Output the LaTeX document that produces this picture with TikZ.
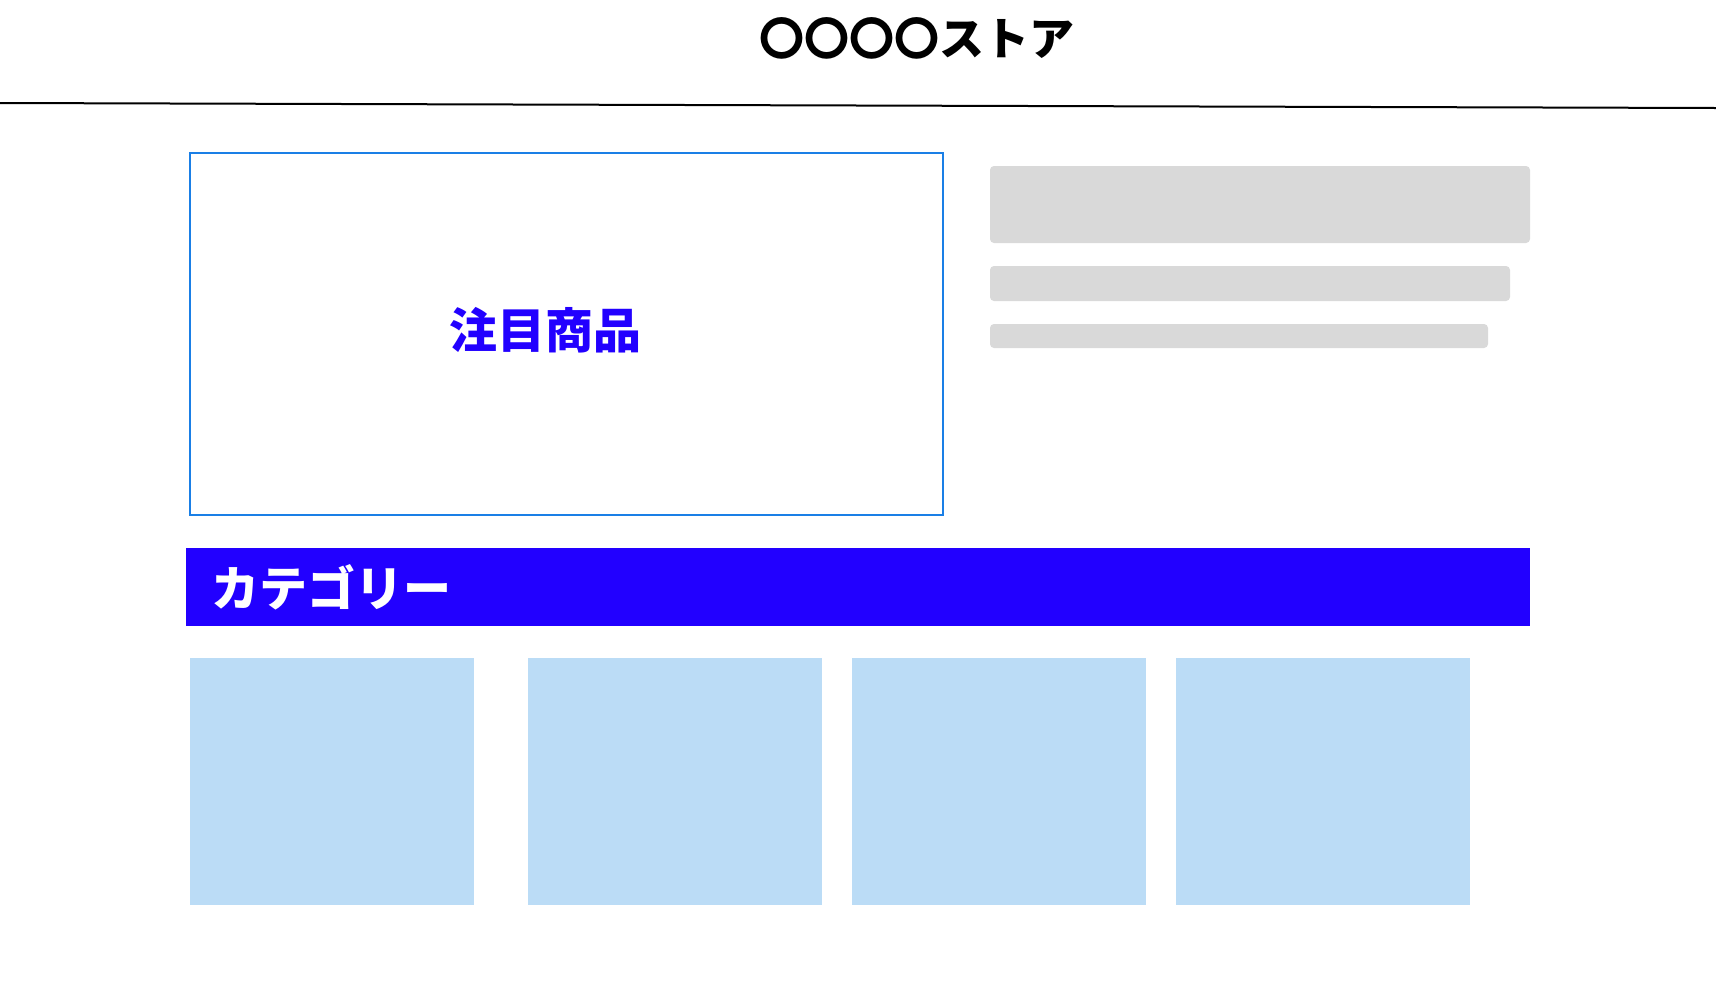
\documentclass[tikz,border=0pt]{standalone}
\usepackage{fontspec}
\newfontfamily\cjk{Noto Sans CJK JP}
\definecolor{framblue}{HTML}{1A7FE6}
\definecolor{barblue}{HTML}{2200FF}
\definecolor{tileblue}{HTML}{BBDCF6}
\definecolor{skel}{HTML}{D9D9D9}
\tikzset{
  box/.style={anchor=north west, inner sep=0pt, outer sep=0pt, minimum width=#1},
  skelbar/.style={fill=skel, rounded corners=4pt},
  tile/.style={fill=tileblue, anchor=north west, inner sep=0pt, outer sep=0pt, minimum width=294pt, minimum height=247pt},
  jp/.style={font=\cjk\bfseries\fontsize{#1}{#1}\selectfont, inner sep=0pt}
}
\begin{document}
\begin{tikzpicture}[x=1pt,y=1pt]
\useasboundingbox[fill=white] (0,0) rectangle (1716,-994);
% title
\node[jp=45, text=black] (title) at (917,-38) {〇〇〇〇ストア};
% header rule
\coordinate (ruleL) at (0,-103);
\coordinate (ruleR) at (1716,-108);
\draw[line width=2pt] (ruleL) -- (ruleR);
% featured box
\node[box=753pt, minimum height=362pt, draw=framblue, line width=2pt] (feat) at (190,-153) {};
\node[jp=48, text=barblue] (featlabel) at (545,-330) {注目商品};
% skeleton bars
\node[box=540pt, minimum height=77pt, skelbar] (sk1) at (990,-166) {};
\node[box=520pt, minimum height=35pt, skelbar] (sk2) at (990,-266) {};
\node[box=498pt, minimum height=24pt, skelbar] (sk3) at (990,-324) {};
% category bar
\node[box=1344pt, minimum height=78pt, fill=barblue] (catbar) at (186,-548) {};
\node[jp=48, text=white, anchor=west] (catlabel) at (211,-587) {カテゴリー};
% tiles
\node[tile, minimum width=284pt] (t1) at (190,-658) {};
\node[tile] (t2) at (528,-658) {};
\node[tile] (t3) at (852,-658) {};
\node[tile] (t4) at (1176,-658) {};
\end{tikzpicture}
\end{document}
